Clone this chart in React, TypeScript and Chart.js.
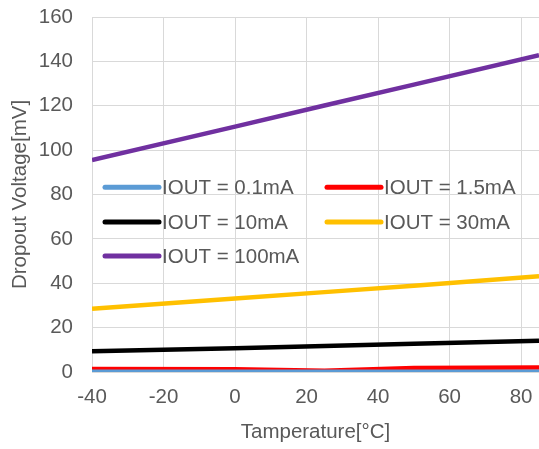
import React, { useEffect, useRef } from "react";
import { Chart, registerables } from "chart.js";

Chart.register(...registerables);

const temps = [-40, 0, 25, 50, 85];
const labels = ["IOUT = 0.1mA", "IOUT = 1.5mA", "IOUT = 10mA", "IOUT = 30mA", "IOUT = 100mA"];
const iout01 = [0.1, 0.1, 0.1, 0.1, 0.1];
const iout15 = [1.3, 1.2, 0.6, 1.8, 2.0];
const iout10 = [9.3, 10.7, 11.7, 12.7, 14.1];
const iout30 = [28.5, 33.1, 36.0, 38.9, 43.2];
const iout100 = [95.5, 110.6, 120.1, 129.5, 142.8];
const colors = ["#5b9bd5", "#ff0000", "#000000", "#ffc000", "#7030a0"];
const xTicks = [-40, -20, 0, 20, 40, 60, 80];

const FONT = "'Liberation Sans', Arial, sans-serif";
const GRAY = "#595959";
const FS = 20.5;

const legendPlugin = {
  id: "inlineLegend",
  afterDraw(chart: any) {
    const ctx = chart.ctx;
    const x = chart.scales.x;
    const y = chart.scales.y;
    const cols = [x.left + 13, x.left + 235];
    const rows = [y.getPixelForValue(83.3), y.getPixelForValue(67.6), y.getPixelForValue(52.3)];
    ctx.save();
    chart.data.datasets.forEach((ds: any, i: number) => {
      const cx = cols[i % 2];
      const cy = rows[Math.floor(i / 2)];
      ctx.strokeStyle = ds.borderColor;
      ctx.lineWidth = 5;
      ctx.lineCap = "round";
      ctx.beginPath();
      ctx.moveTo(cx, cy);
      ctx.lineTo(cx + 54, cy);
      ctx.stroke();
      ctx.fillStyle = GRAY;
      ctx.font = `${FS}px ${FONT}`;
      ctx.textBaseline = "middle";
      ctx.textAlign = "left";
      ctx.fillText(ds.label, cx + 57, cy + 1);
    });
    ctx.restore();
  },
};

export default function App() {
  const ref = useRef<HTMLCanvasElement>(null);
  useEffect(() => {
    document.body.style.margin = "0";
    const series = [iout01, iout15, iout10, iout30, iout100];
    const chart = new Chart(ref.current!, {
      type: "line",
      data: {
        datasets: series.map((s, i) => ({
          label: labels[i],
          data: temps.map((t, j) => ({ x: t, y: s[j] })),
          borderColor: colors[i],
          backgroundColor: colors[i],
          borderWidth: 4.5,
          pointRadius: 0,
          tension: 0,
        })),
      },
      options: {
        animation: false,
        responsive: false,
        layout: { padding: { top: 17, right: 0, left: 0, bottom: 0 } },
        plugins: { legend: { display: false }, tooltip: { enabled: false } },
        scales: {
          x: {
            type: "linear",
            min: -40,
            max: 85,
            afterBuildTicks: (s: any) => {
              s.ticks = xTicks.map((v) => ({ value: v }));
            },
            afterFit: (s: any) => {
              s.height = 77;
              s.paddingLeft = 0;
              s.paddingRight = 0;
            },
            grid: { color: "#d9d9d9", lineWidth: 1, drawTicks: false },
            border: { color: "#d9d9d9" },
            ticks: { color: GRAY, font: { family: FONT, size: FS }, padding: 13, maxRotation: 0 },
            title: {
              display: true,
              text: "Tamperature[°C]",
              color: GRAY,
              font: { family: FONT, size: FS },
              padding: { top: 2 },
            },
          },
          y: {
            min: 0,
            max: 160,
            afterFit: (s: any) => {
              s.width = 92;
              s.paddingTop = 0;
              s.paddingBottom = 0;
            },
            grid: { color: "#d9d9d9", lineWidth: 1, drawTicks: false },
            border: { color: "#d9d9d9" },
            ticks: { stepSize: 20, color: GRAY, font: { family: FONT, size: FS }, padding: 19 },
            title: {
              display: true,
              text: "Dropout Voltage[mV]",
              color: GRAY,
              font: { family: FONT, size: FS },
              padding: { top: 8, bottom: 0 },
            },
          },
        },
      },
      plugins: [legendPlugin],
    });
    return () => chart.destroy();
  }, []);
  return <canvas ref={ref} width={539} height={449} style={{ display: "block" }} />;
}
